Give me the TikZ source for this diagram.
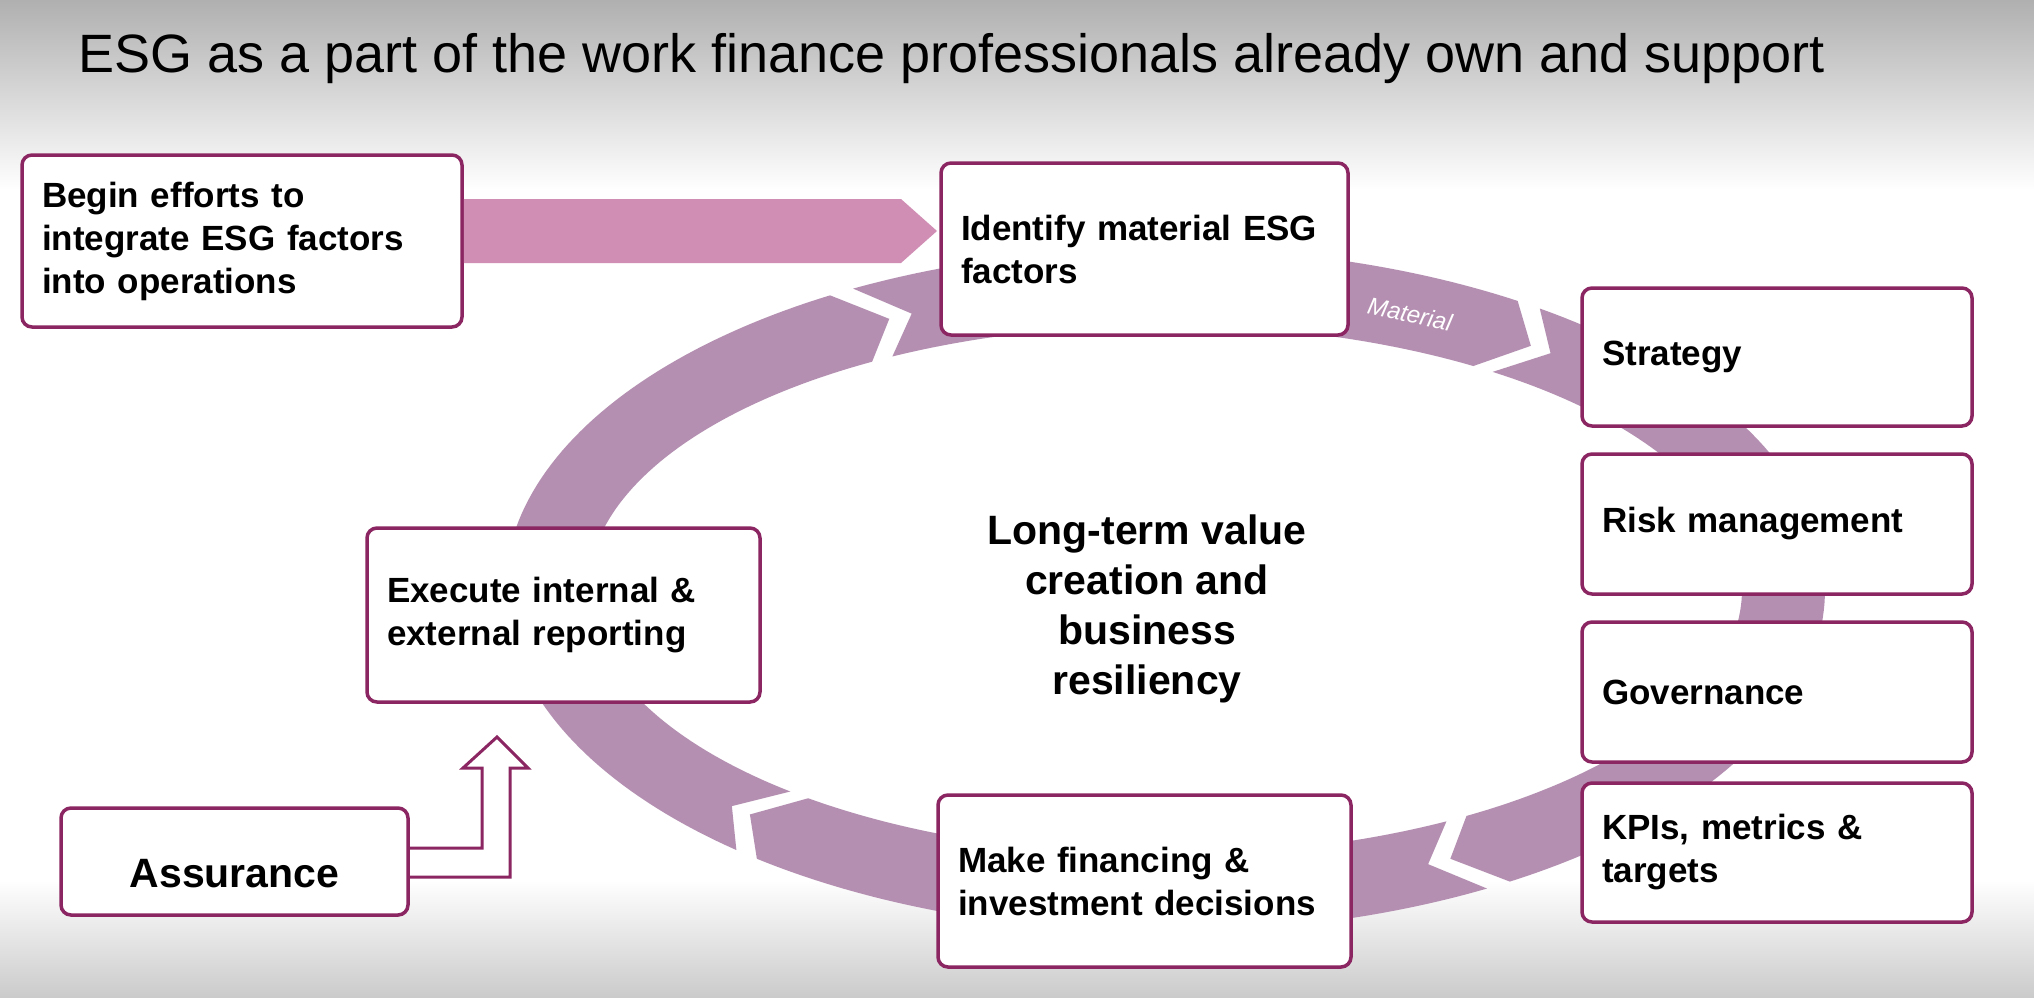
\documentclass[tikz,border=0pt]{standalone}
\usepackage{fontspec}
\setmainfont{Liberation Sans}
\usetikzlibrary{calc}
\definecolor{boxc}{RGB}{139,38,98}
\definecolor{ringc}{RGB}{181,143,177}
\definecolor{arrc}{RGB}{208,142,181}
\definecolor{topg}{RGB}{176,176,176}
\definecolor{botg}{RGB}{203,203,203}
% ring geometry (pixels, y downwards)
\def\rcx{1165}\def\rcy{590}
\def\rao{660}\def\rbo{342}
\def\ram{618}\def\rbm{303}
\def\rai{577}\def\rbi{265}
\def\rdt{4}
\newcommand{\ringseg}[2]{%
  \fill[ringc] plot[domain=#1:#2,samples=90] ({\rcx+\rao*cos(\x)},{\rcy+\rbo*sin(\x)})
    -- ({\rcx+\ram*cos(#2+\rdt)},{\rcy+\rbm*sin(#2+\rdt)})
    -- plot[domain=#1:#2,samples=90] ({\rcx+\rai*cos(#1+#2-\x)},{\rcy+\rbi*sin(#1+#2-\x)})
    -- ({\rcx+\ram*cos(#1+\rdt)},{\rcy+\rbm*sin(#1+\rdt)}) -- cycle;}
\begin{document}
\begin{tikzpicture}[x=1pt,y=-1pt,
  box/.style={draw=boxc, line width=3.5pt, fill=white, rounded corners=10pt,
    align=left, inner xsep=20pt, inner ysep=0pt,
    font=\bfseries\fontsize{35}{43}\selectfont},
  outl/.style={draw=boxc, line width=3pt, fill=white, line join=miter},
  lbl/.style={inner sep=0pt}]
\useasboundingbox (0,0) rectangle (2034,997);
% background
\fill[white] (0,0) rectangle (2034,997);
\shade[top color=topg, bottom color=white] (0,0) rectangle (2034,190);
\shade[top color=white, bottom color=botg] (0,880) rectangle (2034,997);
% title
\node[lbl, anchor=base west, font=\fontsize{54}{60}\selectfont] (title) at (78,72)
  {ESG as a part of the work finance professionals already own and support};
% cycle ring
\ringseg{304.6}{418.5}
\ringseg{60.8}{128.2}
\ringseg{130.5}{239.5}
\ringseg{241.8}{302.3}
\node[lbl, text=white, rotate=-12, font=\itshape\fontsize{24}{28}\selectfont] (matl) at (1410,314) {Material};
% boxes
\node[box, minimum width=440, minimum height=172, text width=400] (begin) at (242,241)
  {Begin efforts to\\integrate ESG factors\\into operations};
\node[box, minimum width=407, minimum height=172, text width=367] (ident) at (1144.5,249)
  {Identify material ESG\\factors};
\coordinate (tipA) at (937,231);
\node[box, minimum width=390, minimum height=138, text width=350] (strat) at (1777,357) {Strategy};
\node[box, minimum width=390, minimum height=140, text width=350] (risk) at (1777,524) {Risk management};
\node[box, minimum width=390, minimum height=140, text width=350] (gov) at (1777,692) {Governance};
\node[box, minimum width=390, minimum height=139, text width=350] (kpi) at (1777,852.5) {KPIs, metrics \&\\targets};
\node[box, minimum width=393, minimum height=174, text width=353] (exec) at (563.5,615)
  {Execute internal \&\\external reporting};
\node[box, minimum width=413, minimum height=172, text width=373] (make) at (1144.5,881)
  {Make financing \&\\investment decisions};
% Assurance arrow (drawn before the box so the box covers its left end)
\coordinate (asT) at (408,848);
\coordinate (asB) at (408,877);
\path[outl] (asT) -- (482,848) -- (482,768) -- (463,768) -- (497,737) -- (528,768)
  -- (510,768) -- (510,877) -- (asB) -- cycle;
\node[box, align=center, minimum width=347, minimum height=107,
  font=\bfseries\fontsize{41}{48}\selectfont, text height=52pt, text depth=0pt] (assure) at (234.5,861.5) {Assurance};
% top block arrow from begin to ident
\fill[arrc] (begin.east |- 0,199) -- (901,199) -- (tipA) -- (901,263) -- (begin.east |- 0,263) -- cycle;
% centre text
\node[lbl, align=center, font=\bfseries\fontsize{41}{50}\selectfont] (core) at (1147,609)
  {Long-term value\\creation and\\business\\resiliency};
\end{tikzpicture}
\end{document}
